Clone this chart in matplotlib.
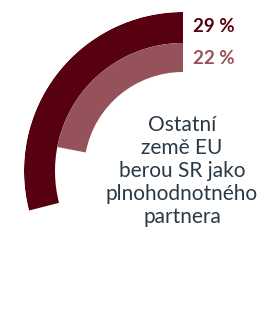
import numpy as np
import matplotlib.pyplot as plt

# share of respondents (percent of full circle)
series = ["outer", "inner"]
values = [29, 22]
labels = ["29 %", "22 %"]
colors = ["#57000f", "#96525a"]
caption = "Ostatní\nzemě EU\nberou SR jako\nplnohodnotného\npartnera"

W, H = 269, 310
fig = plt.figure(figsize=(W / 100, H / 100), dpi=100)

# polar axes centred at pixel (183, 171), outer radius 159 px
cx, cy, R = 183, 171, 159
ax = fig.add_axes([(cx - R) / W, (H - cy - R) / H, 2 * R / W, 2 * R / H],
                  projection="polar")
ax.set_theta_zero_location("N")
ax.set_theta_direction(1)
ax.set_ylim(0, R)

bottoms = [128, 99]
heights = [31, 29]
for v, b, h, c in zip(values, bottoms, heights, colors):
    ax.bar(0, h, width=np.deg2rad(v * 3.6), bottom=b, align="edge",
           color=c, linewidth=0)

ax.set_xticks([])
ax.set_yticks([])
ax.grid(False)
ax.spines["polar"].set_visible(False)
ax.patch.set_visible(False)

# value labels
for lab, y, c in zip(labels, [27, 58], colors):
    fig.text(193 / W, 1 - y / H, lab, color=c, fontsize=13.5, fontweight="bold",
             family="Lato", ha="left", va="center")

fig.text(182 / W, 1 - 171 / H, caption, color="#2b3945", fontsize=15,
         family="Lato", ha="center", va="center", linespacing=1.2)

plt.savefig("out.png", dpi=100)
plt.close(fig)
